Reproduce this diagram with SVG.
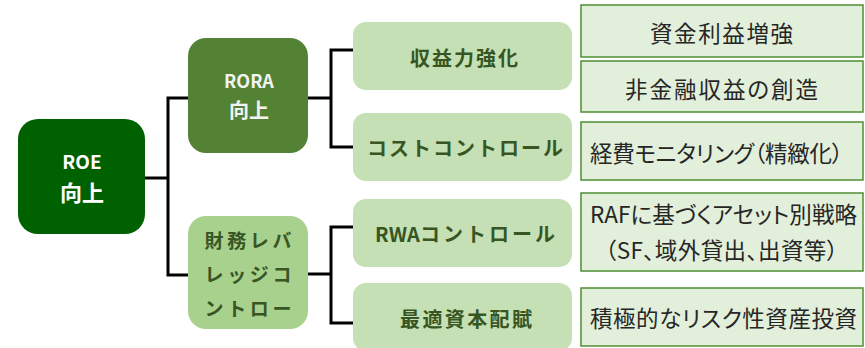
<svg xmlns="http://www.w3.org/2000/svg" width="865" height="348" viewBox="0 0 865 348">
<style>
.t{font-family:"Noto Sans CJK JP","Noto Sans",sans-serif;text-anchor:middle;dominant-baseline:central}
.b{font-weight:bold}
.w{fill:#ffffff;font-size:18px}
.l2d{fill:#375623;font-size:19px}
.l3{fill:#c5e0b4}
.l3t{fill:#375623;font-size:20px}
.l4{fill:#e2efda;stroke:#4f8f34;stroke-width:1.5}
.l4t{fill:#262626;font-size:22.5px;font-feature-settings:"palt"}
.c{fill:none;stroke:#000;stroke-width:3}
</style>
<rect width="865" height="348" fill="#ffffff"/>
<g id="connectors">
<polyline class="c" points="145,178 168,178"/>
<polyline class="c" points="189,98 168,98 168,275 189,275"/>
<polyline class="c" points="307,98 331,98"/>
<polyline class="c" points="353,50 331,50 331,147 353,147"/>
<polyline class="c" points="307,274 331,274"/>
<polyline class="c" points="353,227 331,227 331,323 353,323"/>
</g>
<g id="roe">
<rect x="18" y="119" width="127" height="115" rx="20" fill="#006100"/>
<text class="t b w" x="82" y="160" style="font-size:19px">ROE</text>
<text class="t b w" x="82" y="191" style="font-size:22px">向上</text>
</g>
<g id="rora">
<rect x="188" y="38" width="120" height="115" rx="18" fill="#548235"/>
<text class="t b w" x="249" y="80" style="fill:#f2f2f2">RORA</text>
<text class="t b w" x="249" y="109" style="fill:#f2f2f2;font-size:20px">向上</text>
</g>
<g id="leverage">
<rect x="188" y="216" width="120" height="113" rx="18" fill="#a9d18e"/>
<text class="t b l2d" x="248" y="239" textLength="87" lengthAdjust="spacing">財務レバ</text>
<text class="t b l2d" x="248" y="273" textLength="87" lengthAdjust="spacing">レッジコ</text>
<text class="t b l2d" x="248" y="307" textLength="87" lengthAdjust="spacing">ントロー</text>
</g>
<g id="shueki">
<rect class="l3" x="353" y="22" width="219" height="68" rx="13"/>
<text class="t b l3t" x="464" y="57" textLength="108" lengthAdjust="spacing">収益力強化</text>
</g>
<g id="cost">
<rect class="l3" x="353" y="113" width="219" height="68" rx="13"/>
<text class="t b l3t" x="465" y="147" textLength="196" lengthAdjust="spacing">コストコントロール</text>
</g>
<g id="rwa">
<rect class="l3" x="353" y="199" width="219" height="68" rx="13"/>
<text class="t b l3t" x="375" y="233" style="text-anchor:start"><tspan>RWA</tspan><tspan x="420" style="letter-spacing:3px">コントロール</tspan></text>
</g>
<g id="capital">
<rect class="l3" x="353" y="283" width="219" height="68" rx="13"/>
<text class="t b l3t" x="466" y="318" textLength="132" lengthAdjust="spacing">最適資本配賦</text>
</g>
<g id="shikin">
<rect class="l4" x="581" y="5" width="282" height="52"/>
<text class="t l4t" x="721.5" y="32" textLength="143" lengthAdjust="spacing">資金利益増強</text>
</g>
<g id="hikinyu">
<rect class="l4" x="581" y="61" width="282" height="51"/>
<text class="t l4t" x="721.5" y="88" textLength="193" lengthAdjust="spacing">非金融収益の創造</text>
</g>
<g id="keihi">
<rect class="l4" x="581" y="122" width="282" height="58"/>
<text class="t l4t" x="716.5" y="152" textLength="253" lengthAdjust="spacing">経費モニタリング（精緻化）</text>
</g>
<g id="raf">
<rect class="l4" x="581" y="193" width="282" height="78"/>
<text class="t l4t" x="723.5" y="213" textLength="267" lengthAdjust="spacing">RAFに基づくアセット別戦略</text>
<text class="t l4t" x="721.5" y="249" textLength="233" lengthAdjust="spacing">（SF、域外貸出、出資等）</text>
</g>
<g id="sekkyoku">
<rect class="l4" x="581" y="288" width="282" height="58"/>
<text class="t l4t" x="723.5" y="317" textLength="267" lengthAdjust="spacing">積極的なリスク性資産投資</text>
</g>
</svg>
